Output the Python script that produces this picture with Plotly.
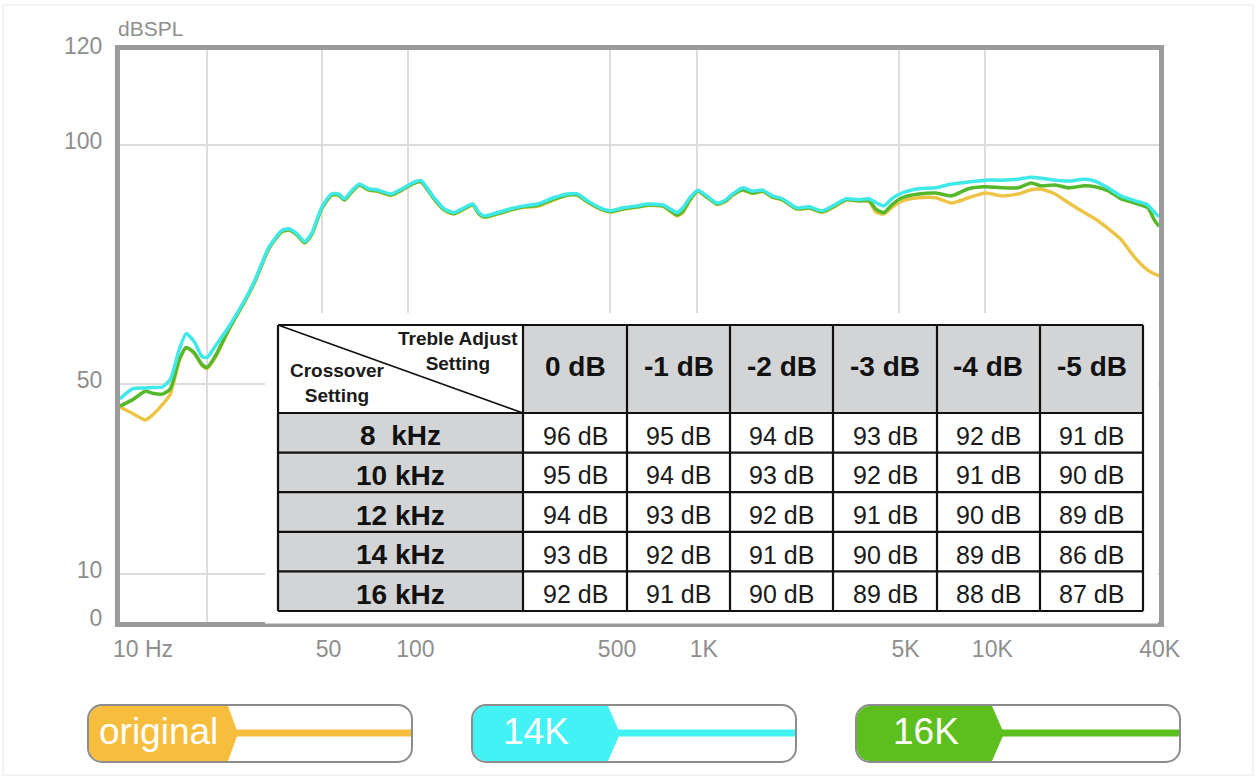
import plotly.graph_objects as go

# ---------------- data ----------------
freq_hz = [10, 11.04, 12.24, 12.95, 14.02, 14.94, 16.05, 16.96, 18.08, 19.26,
           20.04, 21.36, 23.87, 27.11, 29.36, 32.81, 36.37, 38.45, 40.98, 43.67,
           46.17, 49.97, 54.12, 57.20, 60.00, 63.44, 67.60, 72.60, 78.63, 87.16,
           94.36, 104.6, 110.6, 122.7, 132.8, 143.8, 155.7, 167.2, 175.4, 182.5,
           203.9, 226.1, 250.7, 280.2, 318.3, 355.7, 385.1, 417.0, 462.4, 500.7,
           555.1, 620.3, 676.9, 762.5, 806.2, 852.4, 894.1, 945.2, 1007, 1082,
           1172, 1248, 1330, 1440, 1559, 1689, 1828, 1980, 2212, 2452,
           2719, 3039, 3291, 3649, 3951, 4177, 4451, 4742, 5135, 5878,
           6726, 7638, 8744, 10007, 11364, 13009, 14427, 15618, 17451, 19353,
           22153, 23991, 26599, 29490, 32961, 36548, 38637, 40000]

spl_14k = [46.8, 48.9, 49.1, 49.2, 49.3, 50.9, 57.2, 60.5, 58.8, 55.7,
           55.5, 57.8, 62.0, 67.6, 71.7, 78.6, 82.1, 82.5, 81.5, 79.8,
           81.5, 86.9, 89.8, 89.8, 88.8, 90.4, 91.9, 90.9, 90.6, 89.8,
           90.8, 92.3, 92.6, 89.0, 86.7, 85.9, 86.9, 87.7, 85.9, 85.2,
           85.9, 86.7, 87.3, 87.7, 89.0, 89.8, 89.8, 88.4, 86.9, 86.3,
           86.9, 87.3, 87.7, 87.5, 86.7, 85.9, 86.9, 89.0, 90.6, 89.4,
           87.9, 88.4, 89.8, 91.1, 90.4, 90.6, 89.4, 88.8, 86.9, 87.1,
           86.3, 87.7, 88.8, 88.6, 88.8, 88.0, 87.3, 88.8, 90.0, 90.9,
           91.1, 91.9, 92.3, 92.7, 92.7, 92.9, 93.3, 93.1, 92.7, 92.5,
           92.9, 92.5, 91.1, 89.4, 88.4, 87.5, 85.9, 85.0]

spl_16k = [45.3, 46.6, 48.4, 48.0, 47.8, 48.9, 55.1, 57.6, 56.5, 54.0,
           53.4, 55.7, 61.5, 67.4, 71.5, 78.4, 81.9, 82.3, 81.3, 79.6,
           81.3, 86.7, 89.6, 89.6, 88.6, 90.2, 91.7, 90.7, 90.4, 89.6,
           90.6, 92.1, 92.4, 88.8, 86.5, 85.7, 86.7, 87.5, 85.7, 85.0,
           85.7, 86.5, 87.1, 87.4, 88.7, 89.6, 89.6, 88.2, 86.7, 86.1,
           86.7, 87.1, 87.5, 87.3, 86.4, 85.4, 86.2, 88.6, 90.4, 89.2,
           87.7, 88.2, 89.6, 90.7, 90.0, 90.4, 89.2, 88.6, 86.7, 86.9,
           86.1, 87.5, 88.6, 88.4, 88.4, 86.6, 85.9, 87.5, 89.0, 89.8,
           90.0, 89.4, 90.9, 91.3, 91.1, 91.1, 92.1, 91.5, 91.7, 91.1,
           91.5, 91.3, 90.5, 88.8, 87.9, 86.9, 84.2, 83.0]

spl_original = [45.1, 43.8, 42.4, 43.4, 45.6, 47.8, 54.8, 57.5, 56.4, 53.8,
                53.2, 55.4, 61.3, 67.3, 71.4, 78.3, 81.8, 82.2, 81.2, 79.5,
                81.2, 86.6, 89.5, 89.5, 88.5, 90.1, 91.6, 90.6, 90.3, 89.5,
                90.5, 92.0, 92.3, 88.7, 86.4, 85.6, 86.6, 87.4, 85.6, 84.9,
                85.6, 86.4, 87.0, 87.2, 88.5, 89.5, 89.5, 88.1, 86.6, 86.0,
                86.6, 87.0, 87.4, 87.2, 86.2, 85.2, 85.9, 88.4, 90.3, 89.1,
                87.6, 88.1, 89.5, 90.6, 89.9, 90.3, 89.1, 88.5, 86.6, 86.8,
                85.9, 87.3, 88.5, 88.3, 88.2, 86.0, 85.6, 87.0, 88.3, 89.0,
                89.0, 87.9, 89.0, 90.0, 89.4, 89.8, 90.7, 90.8, 89.8, 88.0,
                85.8, 84.6, 82.6, 80.3, 76.5, 73.8, 73.0, 72.6]

series_names = ["original", "14K", "16K"]

y_tick_vals = [0, 10, 50, 100, 120]
y_tick_text = ["0", "10", "50", "100", "120"]
x_tick_vals = [10, 20, 50, 100, 500, 1000, 5000, 10000, 40000]
x_tick_text = ["\u00a0\u00a0\u00a0\u00a0\u00a010 Hz", "", "50", "100", "500",
               "1K", "5K", "10K", "40K\u00a0\u00a0"]
y_unit = "dBSPL"

corner_top = "Treble Adjust<br>Setting"
corner_bottom = "Crossover<br>Setting"
treble_settings = ["0 dB", "-1 dB", "-2 dB", "-3 dB", "-4 dB", "-5 dB"]
crossover_settings = ["8\u00a0\u00a0kHz", "10 kHz", "12 kHz", "14 kHz", "16 kHz"]
sensitivity_db = [
    [96, 95, 94, 93, 92, 91],
    [95, 94, 93, 92, 91, 90],
    [94, 93, 92, 91, 90, 89],
    [93, 92, 91, 90, 89, 86],
    [92, 91, 90, 89, 88, 87],
]

# ---------------- styles / layout constants ----------------
W, H = 1257, 778
PLOT_L, PLOT_R, PLOT_T, PLOT_B = 120, 1159, 50, 622
C_ORIG, C_14K, C_16K = "#ecc446", "#40e8e8", "#54b82a"
PILL_ORIG, PILL_14K, PILL_16K = "#f6be3c", "#42f2f4", "#5cbf1e"
FRAME = "#9b9b9b"
GRID = "#dcdcdc"
TICK_C = "#8e8e8e"
FONT = "Liberation Sans"


def px(x):
    return x / W


def py(y):
    return 1 - y / H


def label(x, y, text, size, color, weight="normal", align="center"):
    return dict(xref="paper", yref="paper", x=px(x), y=py(y), text=text,
                showarrow=False, xanchor="center", yanchor="middle", align=align,
                font=dict(family=FONT, size=size, color=color, weight=weight))


fig = go.Figure()
for name, ys, col in [(series_names[0], spl_original, C_ORIG),
                      (series_names[2], spl_16k, C_16K),
                      (series_names[1], spl_14k, C_14K)]:
    fig.add_trace(go.Scatter(x=freq_hz, y=ys, name=name, mode="lines",
                             line=dict(color=col, width=3.5, shape="spline", smoothing=0.6),
                             showlegend=False, hoverinfo="skip"))

shapes = []
annotations = []

# outer light frame of the image
shapes.append(dict(type="rect", xref="paper", yref="paper", x0=px(3), x1=px(1253),
                   y0=py(775), y1=py(5), line=dict(color="#e6e6e6", width=1), layer="below"))

# white backdrop around the table (hides gridlines)
shapes.append(dict(type="rect", xref="paper", yref="paper", x0=px(265), x1=px(1158),
                   y0=py(623.5), y1=py(313), fillcolor="white", line=dict(width=0), layer="above"))

# ---------------- table ----------------
col_edges = [278, 523, 627, 730, 833, 937, 1040, 1143]
head_top, head_bot = 325, 413
row_h = 39.6
row_edges = [head_bot + i * row_h for i in range(len(crossover_settings) + 1)]
CELL_GRAY = "#d3d4d6"

for j in range(len(treble_settings)):
    shapes.append(dict(type="rect", xref="paper", yref="paper",
                       x0=px(col_edges[j + 1]), x1=px(col_edges[j + 2]),
                       y0=py(head_bot), y1=py(head_top), fillcolor=CELL_GRAY,
                       line=dict(width=0), layer="above"))
for i in range(len(crossover_settings)):
    shapes.append(dict(type="rect", xref="paper", yref="paper",
                       x0=px(col_edges[0]), x1=px(col_edges[1]),
                       y0=py(row_edges[i + 1]), y1=py(row_edges[i]), fillcolor=CELL_GRAY,
                       line=dict(width=0), layer="above"))
for xe in col_edges:
    shapes.append(dict(type="line", xref="paper", yref="paper", x0=px(xe), x1=px(xe),
                       y0=py(head_top), y1=py(row_edges[-1]), line=dict(color="#111", width=2.2),
                       layer="above"))
for ye in [head_top] + row_edges:
    shapes.append(dict(type="line", xref="paper", yref="paper", x0=px(col_edges[0]),
                       x1=px(col_edges[-1]), y0=py(ye), y1=py(ye),
                       line=dict(color="#111", width=2.2), layer="above"))
shapes.append(dict(type="line", xref="paper", yref="paper", x0=px(col_edges[0]), y0=py(head_top),
                   x1=px(col_edges[1]), y1=py(head_bot), line=dict(color="#111", width=1.6),
                   layer="above"))

annotations.append(label(458, 351.5, corner_top, 19, "#1a1a1a", "bold"))
annotations.append(label(337, 383, corner_bottom, 19, "#1a1a1a", "bold"))

for j, t in enumerate(treble_settings):
    cx = (col_edges[j + 1] + col_edges[j + 2]) / 2
    annotations.append(label(cx, 366, t, 28, "#111", "bold"))
for i, lab in enumerate(crossover_settings):
    cy = (row_edges[i] + row_edges[i + 1]) / 2 + 3
    annotations.append(label((col_edges[0] + col_edges[1]) / 2, cy, lab, 28, "#111", "bold"))
    for j, v in enumerate(sensitivity_db[i]):
        cx = (col_edges[j + 1] + col_edges[j + 2]) / 2
        annotations.append(label(cx, cy, f"{v} dB", 25, "#1a1a1a"))

annotations.append(label(150, 28, y_unit, 21, TICK_C))


# ---------------- custom legend pills ----------------
def to_path(pts):
    s = ""
    for cmd, ps in pts:
        s += cmd + " ".join(f"{px(a):.5f},{py(b):.5f}" for a, b in ps) + " "
    return s + "Z"


def rounded_rect_path(x0, y0, x1, y1, r):
    k = 0.5523 * r
    return to_path([
        ("M", [(x0 + r, y0)]),
        ("L", [(x1 - r, y0)]),
        ("C", [(x1 - r + k, y0), (x1, y0 + r - k), (x1, y0 + r)]),
        ("L", [(x1, y1 - r)]),
        ("C", [(x1, y1 - r + k), (x1 - r + k, y1), (x1 - r, y1)]),
        ("L", [(x0 + r, y1)]),
        ("C", [(x0 + r - k, y1), (x0, y1 - r + k), (x0, y1 - r)]),
        ("L", [(x0, y0 + r)]),
        ("C", [(x0, y0 + r - k), (x0 + r - k, y0), (x0 + r, y0)]),
    ])


def chevron_path(x0, y0, x1, y1, xt, r):
    k = 0.5523 * r
    ym = (y0 + y1) / 2
    return to_path([
        ("M", [(x0 + r, y0)]),
        ("L", [(x1, y0)]),
        ("L", [(xt, ym)]),
        ("L", [(x1, y1)]),
        ("L", [(x0 + r, y1)]),
        ("C", [(x0 + r - k, y1), (x0, y1 - r + k), (x0, y1 - r)]),
        ("L", [(x0, y0 + r)]),
        ("C", [(x0, y0 + r - k), (x0 + r - k, y0), (x0 + r, y0)]),
    ])


pills = [
    (series_names[0], 88, 412, 228, 238, PILL_ORIG, 158),
    (series_names[1], 472, 796, 608, 620, PILL_14K, 536),
    (series_names[2], 856, 1180, 992, 1004, PILL_16K, 926),
]
pill_top, pill_bot = 705, 762
for name, x0, x1, xc, xt, col, tx in pills:
    shapes.append(dict(type="path", xref="paper", yref="paper",
                       path=chevron_path(x0 + 1, pill_top + 1, xc, pill_bot - 1, xt, 13),
                       fillcolor=col, line=dict(width=0), layer="above"))
    shapes.append(dict(type="rect", xref="paper", yref="paper", x0=px(xt - 2), x1=px(x1 - 1),
                       y0=py(736.5), y1=py(729.5), fillcolor=col, line=dict(width=0),
                       layer="above"))
    shapes.append(dict(type="path", xref="paper", yref="paper",
                       path=rounded_rect_path(x0, pill_top, x1, pill_bot, 14),
                       fillcolor="rgba(0,0,0,0)", line=dict(color="#8c8c8c", width=2),
                       layer="above"))
    annotations.append(label(tx, 731, name, 37, "white"))

fig.update_layout(
    width=W, height=H,
    margin=dict(l=0, r=0, t=0, b=0),
    paper_bgcolor="white", plot_bgcolor="white",
    showlegend=False,
    shapes=shapes, annotations=annotations,
    xaxis=dict(type="log", range=[1, 4.60206], domain=[px(PLOT_L), px(PLOT_R)],
               tickvals=x_tick_vals, ticktext=x_tick_text, ticks="",
               showgrid=True, gridcolor=GRID, gridwidth=1.5,
               showline=True, linecolor=FRAME, linewidth=5, mirror=True,
               tickfont=dict(family=FONT, size=23, color=TICK_C),
               ticklabelshift=7, ticklabelstandoff=2, zeroline=False, automargin=False),
    yaxis=dict(range=[0, 120], domain=[py(PLOT_B), py(PLOT_T)],
               tickvals=y_tick_vals, ticktext=y_tick_text, ticks="",
               showgrid=True, gridcolor=GRID, gridwidth=1.5,
               showline=True, linecolor=FRAME, linewidth=5, mirror=True,
               tickfont=dict(family=FONT, size=23, color=TICK_C),
               ticklabelshift=-4, ticklabelstandoff=8, zeroline=False, automargin=False),
)

fig.write_html("out.html", config={"displayModeBar": False},
               post_script="document.body.style.margin='0px';document.body.style.overflow='hidden';")
